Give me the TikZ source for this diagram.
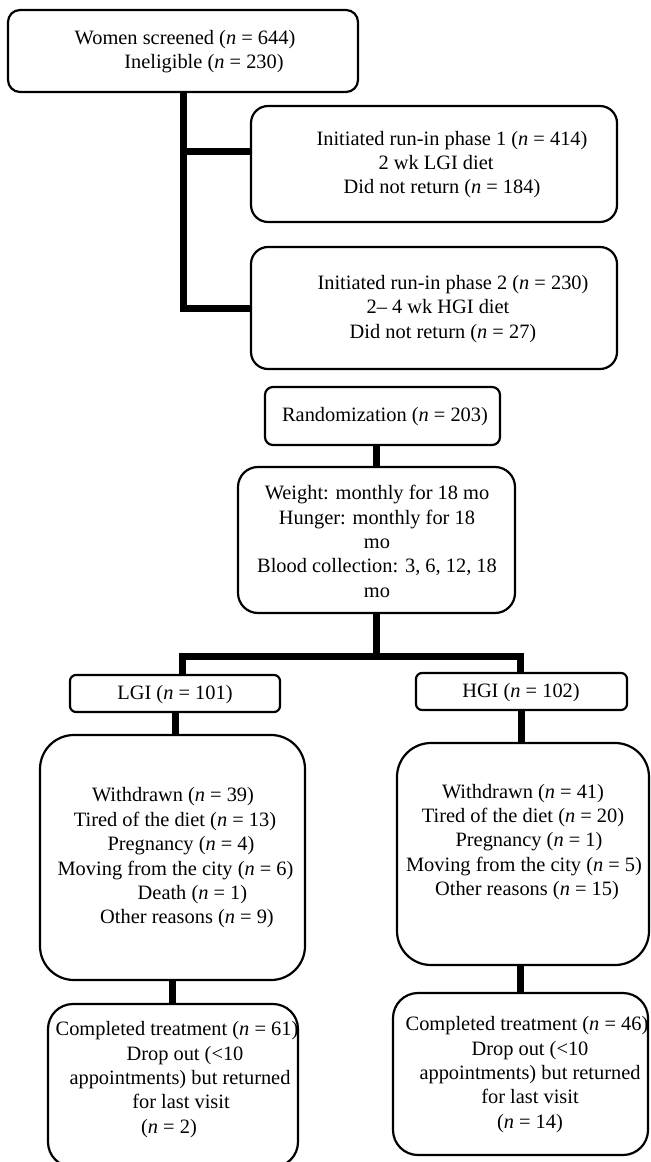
\documentclass[tikz,border=0pt]{standalone}
\usepackage{fontspec}
\setmainfont{Liberation Serif}
\newcommand\sh[2]{\mbox{\kern#1\relax#2\kern-#1\relax}}
\newcommand\nn{\textit{n}}
\newcommand\flowbox[6]{\node[box, rounded corners=#6, minimum width={(#4-#2)*0.75pt}, minimum height={(#5-#3)*0.75pt}] (#1) at ({(#2+#4)/2},{(#3+#5)/2}) {};}
\begin{document}
\begin{tikzpicture}[x=0.75pt,y=-0.75pt,
  box/.style={draw=black, line width=1.65pt, inner sep=0pt, outer sep=0pt},
  conn/.style={draw=black, line width=5.25pt, line cap=butt, line join=miter},
  txt/.style={align=center, inner sep=0pt, font=\fontsize{15.3pt}{18.3pt}\selectfont}]
\useasboundingbox (0,0) rectangle (650,1162);
\fill[white] (0,0) rectangle (650,1162);
\clip (0,0) rectangle (650,1162);

% boxes
\flowbox{b1}{8}{10}{358}{92}{9pt}
\flowbox{b2}{251}{106}{617}{222}{12.75pt}
\flowbox{b3}{251}{247}{617}{369}{12.75pt}
\flowbox{rand}{265}{387}{500}{445}{6pt}
\flowbox{weight}{238}{467}{515}{613}{15pt}
\flowbox{lgi}{70}{675}{280}{712}{4.5pt}
\flowbox{hgi}{416}{673}{627}{710}{4.5pt}
\flowbox{lwd}{40}{735}{305}{980}{25.5pt}
\flowbox{hwd}{397}{743}{649}{965}{25.5pt}
\flowbox{lcomp}{48}{1004}{298}{1167}{18.75pt}
\flowbox{hcomp}{393}{993}{648}{1155}{18.75pt}

% texts
\node[txt] (t1) at (194.5,51.5) {\sh{-7.1pt}{Women screened (\nn{} = 644)}\\ \sh{7.1pt}{Ineligible (\nn{} = 230)}};
\node[txt] (t2) at (444,164.5) {\sh{6pt}{Initiated run-in phase 1 (\nn{} = 414)}\\ \sh{-6pt}{2 wk LGI diet}\\ \sh{-1.5pt}{Did not return (\nn{} = 184)}};
\node[txt] (t3) at (445,309) {\sh{6pt}{Initiated run-in phase 2 (\nn{} = 230)}\\ \sh{-5.25pt}{2– 4 wk HGI diet}\\ \sh{-1.5pt}{Did not return (\nn{} = 27)}};
\node[txt] (t4) at (385,417) {Randomization (\nn{} = 203)};
\node[txt] (t5) at (377,541.5) {Weight: monthly for 18 mo\\ Hunger: monthly for 18\\ mo\\ Blood collection: 3, 6, 12, 18\\ mo};
\node[txt] (t6) at (175,695) {LGI (\nn{} = 101)};
\node[txt] (t7) at (521,693) {HGI (\nn{} = 102)};
\node[txt] (t8) at (177,858) {\sh{-3pt}{Withdrawn (\nn{} = 39)}\\ \sh{-1.5pt}{Tired of the diet (\nn{} = 13)}\\ \sh{3pt}{Pregnancy (\nn{} = 4)}\\ \sh{-1.1pt}{Moving from the city (\nn{} = 6)}\\ \sh{11.6pt}{Death (\nn{} = 1)}\\ \sh{7.5pt}{Other reasons (\nn{} = 9)}};
\node[txt] (t9) at (524,842) {\sh{-0.75pt}{Withdrawn (\nn{} = 41)}\\ \sh{-0.75pt}{Tired of the diet (\nn{} = 20)}\\ \sh{3.75pt}{Pregnancy (\nn{} = 1)}\\ Moving from the city (\nn{} = 5)\\ \sh{2.25pt}{Other reasons (\nn{} = 15)}};
\node[txt] (t10) at (180,1079.5) {\sh{-2.25pt}{Completed treatment (\nn{} = 61)}\\ \sh{3.75pt}{Drop out (<10}\\ appointments) but returned\\ \sh{0.75pt}{for last visit}\\ \sh{-8.25pt}{(\nn{} = 2)}};
\node[txt] (t11) at (530,1074.5) {\sh{-2.25pt}{Completed treatment (\nn{} = 46)}\\ Drop out (<10\\ appointments) but returned\\ for last visit\\ (\nn{} = 14)};

% connectors
\draw[conn] (b1.south) |- (b3.west);
\draw[conn] ([yshift=9pt]b2.west) -- ([yshift=9pt]b2.west -| b1.south);
\draw[conn] (weight.north) -- (weight.north |- rand.south);
\coordinate (bl) at (182.5,656.5);
\coordinate (br) at (520.5,656.5);
\draw[conn] (weight.south) -- (weight.south |- bl);
\draw[conn] (lgi.north -| bl) -- (bl) -- (br) -- (hgi.north -| br);
\draw[conn] (lgi.south) -- (lgi.south |- lwd.north);
\draw[conn] (hgi.south) -- (hgi.south |- hwd.north);
\draw[conn] (lwd.south) -- (lwd.south |- lcomp.north);
\draw[conn] (hcomp.north |- hwd.south) -- (hcomp.north);
\end{tikzpicture}
\end{document}
